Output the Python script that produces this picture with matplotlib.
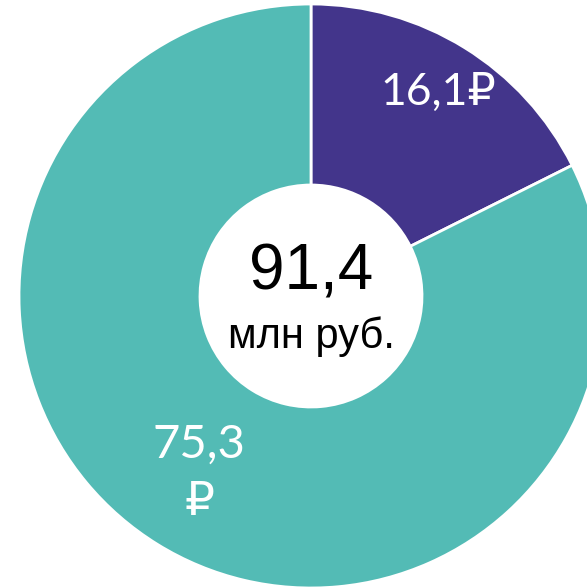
import matplotlib.pyplot as plt

values = [16.1, 75.3]
labels = ['16,1₽', '75,3\n₽']
colors = ['#43358B', '#53BBB5']
total_text = '91,4'
unit_text = 'млн руб.'

W = H = 587
fig = plt.figure(figsize=(5.87, 5.87), dpi=100)
ax = fig.add_axes([0, 0, 1, 1])

# donut: centre and radius in pixel units of the 587x587 canvas
cx, cy, r = 311, H - 296, 292
hole = 111
ax.pie(values, colors=colors, startangle=90, counterclock=False,
       center=(cx, cy), radius=r, frame=True,
       wedgeprops=dict(width=r - hole, edgecolor='white', linewidth=2))

ax.set_xlim(0, W)
ax.set_ylim(0, H)
ax.set_aspect('equal')
ax.axis('off')

ax.text(cx, H - 272, total_text, ha='center', va='center', fontsize=46,
        family=['Liberation Sans', 'DejaVu Sans'], color='black')
ax.text(cx, H - 337, unit_text, ha='center', va='center', fontsize=30,
        family=['Liberation Sans', 'DejaVu Sans'], color='black')

ax.text(438, H - 92, labels[0], ha='center', va='center', fontsize=32,
        family=['Lato', 'DejaVu Sans'], color='white')
ax.text(199, H - 473, labels[1], ha='center', va='center', fontsize=34,
        family=['Lato', 'DejaVu Sans'], color='white', linespacing=1.45)

fig.savefig('out.png', dpi=100)
